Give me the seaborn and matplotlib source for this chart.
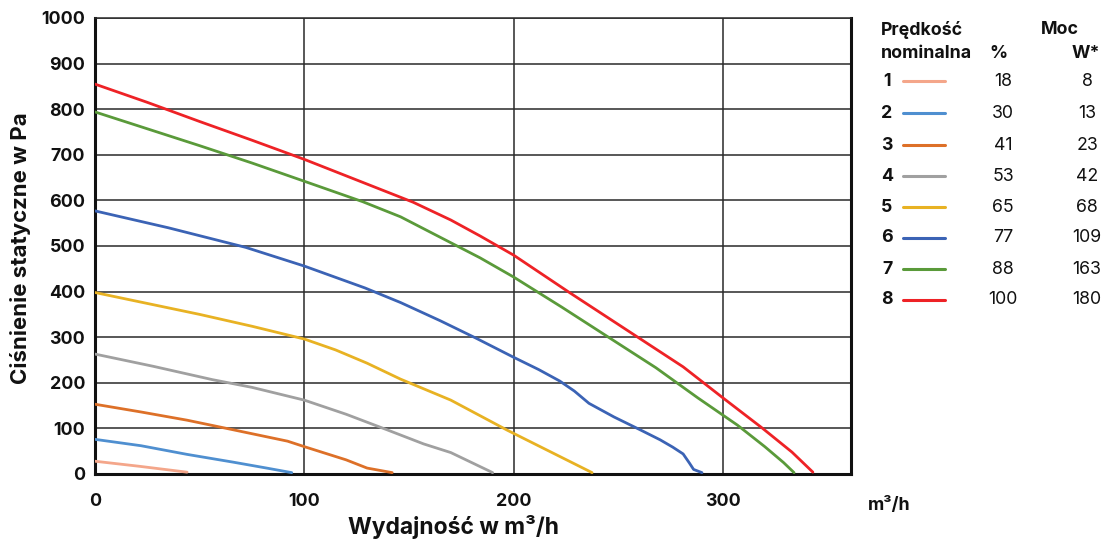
import numpy as np
import pandas as pd
import matplotlib
matplotlib.use("Agg")
import matplotlib.pyplot as plt
import seaborn as sns

# ---- data ----
speed_levels = ["1", "2", "3", "4", "5", "6", "7", "8"]
speed_pct = ["18", "30", "41", "53", "65", "77", "88", "100"]
power_w = ["8", "13", "23", "42", "68", "109", "163", "180"]
colors = ["#F4A68A", "#4F8FD0", "#DD7028", "#A0A0A0", "#E8B223", "#3B63B5", "#5A9A3A", "#EE2226"]

x1 = [0, 21, 44]
y1 = [28, 17, 4]
x2 = [0, 22, 44, 66, 82, 94]
y2 = [76, 62, 43, 26, 13, 3]
x3 = [0, 22, 44, 66, 92, 100, 120, 130, 142]
y3 = [153, 136, 118, 97, 72, 60, 31, 13, 3]
x4 = [0, 28, 56, 75, 100, 120, 139.5, 157, 170, 190]
y4 = [263, 236, 207, 190, 162, 131, 97, 66, 47, 3]
x5 = [0, 25, 50, 75, 100, 115, 130, 146, 170, 197, 237.5]
y5 = [398, 374, 350, 324, 296, 272, 243, 208, 162, 96, 3]
x6 = [0, 35, 72, 100, 129, 146, 165, 182, 200, 212, 222, 229, 236, 248, 260, 270, 276, 281, 284, 286, 290]
y6 = [577, 540, 497, 456, 408, 376, 336, 298, 256, 229, 204, 182, 155, 125, 98, 75, 59, 44, 24, 10, 3]
x7 = [0, 25, 50, 75, 100, 128, 146, 165, 184, 200, 223, 246, 268, 288, 307, 320, 329, 334]
y7 = [794, 757, 720, 682, 642, 597, 564, 519, 474, 432, 366, 298, 233, 167, 107, 60, 25, 3]
x8 = [0, 25, 50, 75, 100, 126, 152, 170, 184, 200, 227, 260, 281, 300, 319, 333, 343]
y8 = [855, 815, 773, 732, 690, 643, 596, 557, 522, 480, 397, 298, 235, 167, 100, 48, 4]

xs = [x1, x2, x3, x4, x5, x6, x7, x8]
ys = [y1, y2, y3, y4, y5, y6, y7, y8]

x_ticks = [0, 100, 200, 300]
y_ticks = list(range(0, 1001, 100))
xlabel = "Wydajność w m³/h"
ylabel = "Ciśnienie statyczne w Pa"
unit_label = "m³/h"
hdr_pct = "%"
hdr_power = "Moc"
hdr_power2 = "W*"

rows = []
for lvl, xv, yv in zip(speed_levels, xs, ys):
    for a, b in zip(xv, yv):
        rows.append({"level": lvl, "flow": a, "pressure": b})
df = pd.DataFrame(rows)

# ---- style ----
sns.set_theme(style="white")
plt.rcParams["font.family"] = ["Inter", "DejaVu Sans"]

W, H = 1108, 543
fig = plt.figure(figsize=(W / 100, H / 100), dpi=100)
L, R, T, B = 95, 851, 18, 474
ax = fig.add_axes([L / W, 1 - B / H, (R - L) / W, (B - T) / H])

sns.lineplot(data=df, x="flow", y="pressure", hue="level", hue_order=speed_levels,
             palette=colors, sort=False, estimator=None, linewidth=2.0,
             legend=False, ax=ax, zorder=3)
for ln in ax.get_lines():
    ln.set_solid_joinstyle("round")

ax.set_xlim(0, (R - L) / 2.093)
ax.set_ylim(0, 1000)
ax.set_xticks(x_ticks)
ax.set_yticks(y_ticks)
ax.grid(True, color="#2a2a2a", linewidth=1.1)
ax.tick_params(axis="both", length=0, labelsize=12.8)
ax.tick_params(axis="x", pad=14)
ax.tick_params(axis="y", pad=7)
for lab in ax.get_xticklabels() + ax.get_yticklabels():
    lab.set_fontweight("bold")
    lab.set_color("#111111")
for s in ["left", "bottom", "right"]:
    ax.spines[s].set_color("#111111")
    ax.spines[s].set_linewidth(2.2)
ax.spines["top"].set_color("#2a2a2a")
ax.spines["top"].set_linewidth(1.1)
ax.set_xlabel("")
ax.set_ylabel("")

def fx(px):
    return px / W

def fy(py):
    return 1 - py / H

fig.text(fx(453), fy(527), xlabel, ha="center", va="center", fontsize=16.5,
         fontweight="bold", color="#111111")
fig.text(fx(21), fy(248), ylabel, ha="center", va="center", rotation=90,
         fontsize=16, fontweight="bold", color="#111111")
fig.text(fx(889), fy(505), unit_label, ha="center", va="center", fontsize=12.8,
         fontweight="bold", color="#111111")

# ---- legend table ----
fs = 12.8
fig.text(fx(881), fy(30), "Prędkość", ha="left", va="center", fontsize=fs,
         fontweight="bold", color="#111111")
fig.text(fx(881), fy(53), "nominalna", ha="left", va="center", fontsize=fs,
         fontweight="bold", color="#111111")
fig.text(fx(998), fy(53), hdr_pct, ha="center", va="center", fontsize=fs,
         fontweight="bold", color="#111111")
fig.text(fx(1060), fy(30), hdr_power, ha="center", va="center", fontsize=fs,
         fontweight="bold", color="#111111")
fig.text(fx(1086), fy(53), hdr_power2, ha="center", va="center", fontsize=fs,
         fontweight="bold", color="#111111")

row_y = [81, 113, 145, 176, 207, 238, 269, 300]
for lvl, pct, pw, c, yy in zip(speed_levels, speed_pct, power_w, colors, row_y):
    fig.text(fx(887), fy(yy), lvl, ha="center", va="center", fontsize=fs,
             fontweight="bold", color="#111111")
    fig.add_artist(plt.Line2D([fx(903), fx(945)], [fy(yy), fy(yy)], color=c,
                              linewidth=2.2, transform=fig.transFigure))
    fig.text(fx(1003), fy(yy), pct, ha="center", va="center", fontsize=fs,
             color="#111111")
    fig.text(fx(1087), fy(yy), pw, ha="center", va="center", fontsize=fs,
             color="#111111")

fig.savefig("out.png", dpi=100, facecolor="white")
